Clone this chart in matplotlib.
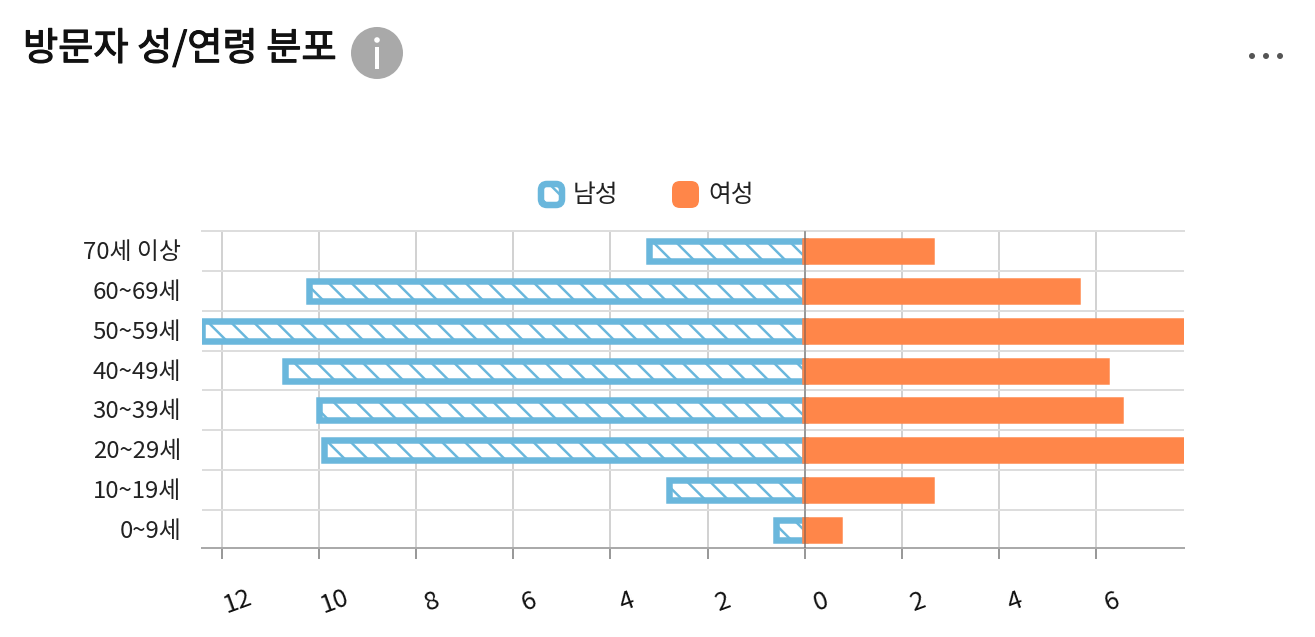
#!/usr/bin/env python3
import matplotlib
matplotlib.use("Agg")
import matplotlib.pyplot as plt
import matplotlib.patheffects as pe
from matplotlib.patches import Circle, FancyBboxPatch, Rectangle
from matplotlib.transforms import ScaledTranslation

WIDTH, HEIGHT = 1315, 637
DPI = 137  # hatch spacing scales with dpi, 137 gives stripes about 23 px apart
BLUE = "#6ab7dc"
ORANGE = "#ff8649"

plt.rcParams["font.family"] = ["Noto Sans CJK KR", "DejaVu Sans"]
plt.rcParams["hatch.linewidth"] = 1.3

age_groups = ["0~9세", "10~19세", "20~29세", "30~39세", "40~49세", "50~59세", "60~69세", "70세 이상"]
male = [0.6, 2.8, 9.9, 10.0, 10.7, 12.4, 10.2, 3.2]
female = [0.7, 2.6, 8.0, 6.5, 6.2, 8.0, 5.6, 2.6]
x_ticks = [-12, -10, -8, -6, -4, -2, 0, 2, 4, 6]
x_tick_labels = ["12", "10", "8", "6", "4", "2", "0", "2", "4", "6"]
band_edges = [0.5, 1.5, 2.5, 3.5, 4.5, 5.5, 6.5]


def px(n):
    return n * 72 / DPI


fig = plt.figure(figsize=((WIDTH + 0.01) / DPI, (HEIGHT + 0.01) / DPI), dpi=DPI, facecolor="white")
ax = fig.add_axes([202 / WIDTH, 1 - 548 / HEIGHT, 981.5 / WIDTH, 317 / HEIGHT])

y = list(range(len(age_groups)))
ax.barh(y, [-v for v in male], height=0.5, facecolor="white", edgecolor=BLUE,
        linewidth=px(6.5), hatch="\\\\", zorder=3)
ax.barh(y, female, height=0.5, color=ORANGE, edgecolor=ORANGE, linewidth=px(6.5), zorder=4)
ax.axvline(0, color="#555555", alpha=0.45, linewidth=px(2), zorder=5)

ax.set_xlim(-12.41, 7.80)
ax.set_ylim(-0.45, 7.5)

ax.set_yticks(y)
ax.set_yticklabels(age_groups, fontsize=12.6, color="#222222")
ax.set_yticks(band_edges, minor=True)
ax.tick_params(axis="y", which="both", length=0, pad=px(21))
for label in ax.get_yticklabels():
    label.set_transform(label.get_transform() + ScaledTranslation(0, 1 / DPI, fig.dpi_scale_trans))
ax.set_xticks(x_ticks)
ax.set_xticklabels(x_tick_labels, fontsize=13.5, rotation=20, color="#111111", ha="center", va="center")
ax.tick_params(axis="x", length=px(11), width=px(2), color="#999999", pad=px(43))
for label in ax.get_xticklabels():
    label.set_transform(label.get_transform() + ScaledTranslation(16 / DPI, 0, fig.dpi_scale_trans))

ax.grid(axis="x", color="#d2d2d2", linewidth=px(2), zorder=1)
ax.grid(axis="y", which="minor", color="#dddddd", linewidth=px(2), zorder=1)
ax.set_axisbelow(True)
for side in ("left", "right"):
    ax.spines[side].set_visible(False)
ax.spines["top"].set_color("#dddddd")
ax.spines["top"].set_linewidth(px(2))
ax.spines["bottom"].set_color("#aaaaaa")
ax.spines["bottom"].set_linewidth(px(2))

# title row and legend sit on a full-size overlay measured in pixels
ui = fig.add_axes([0, 0, 1, 1], zorder=10)
ui.set_xlim(0, WIDTH)
ui.set_ylim(HEIGHT, 0)
ui.axis("off")

# a thin outline thickens the regular weight to a medium look
ui.text(23, 49.5, "방문자 성/연령 분포", fontsize=20.1, color="#111111", va="center",
        path_effects=[pe.withStroke(linewidth=0.6, foreground="#111111")])
ui.add_patch(Circle((377, 53), 26, color="#a9a9a9", lw=0))
ui.add_patch(Circle((377, 40), 2.8, color="white", lw=0))
ui.add_patch(Rectangle((375.2, 47), 3.6, 22, color="white", lw=0))
for cx in (1252, 1266, 1280):
    ui.add_patch(Circle((cx, 56), 3, color="#555555", lw=0))

ui.add_patch(FancyBboxPatch((541, 184), 21, 21, boxstyle="round,pad=0,rounding_size=6",
                            facecolor="white", edgecolor=BLUE, linewidth=px(6.5), hatch="\\\\"))
ui.text(573, 195, "남성", fontsize=13, color="#222222", va="center")
ui.add_patch(FancyBboxPatch((672, 181), 27, 27, boxstyle="round,pad=0,rounding_size=8",
                            facecolor=ORANGE, edgecolor="none"))
ui.text(708, 195, "여성", fontsize=13, color="#222222", va="center")

fig.savefig("out.png", dpi=DPI)
